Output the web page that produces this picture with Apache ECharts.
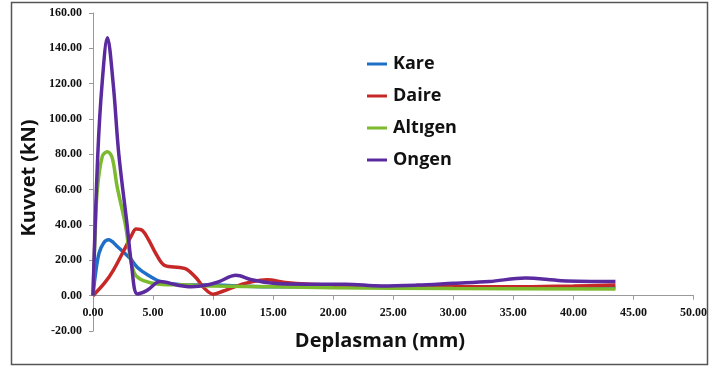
<!DOCTYPE html>
<html>
<head>
<meta charset="utf-8">
<script src="https://cdn.jsdelivr.net/npm/echarts@6/dist/echarts.min.js"></script>
<style>html,body{margin:0;padding:0;background:#fff}#c{width:710px;height:371px}</style>
</head>
<body>
<div id="c"></div>
<script>
const seriesNames = ['Kare', 'Daire', 'Altıgen', 'Ongen'];
const kare = [[0,0],[0.2,12],[0.5,24],[0.9,30],[1.3,31.6],[2.0,28],[3.1,21],[3.7,16],[4.5,12],[5.6,8],[6.5,6.8],[8,6],[10,6],[12,5.5],[15,5],[20,5],[30,4.8],[43.5,4.5]];
const daire = [[0,0],[1,7.5],[1.7,14.5],[2.6,26],[3.2,34],[3.6,37.7],[4.1,37],[4.6,32],[5.3,23],[6.0,17],[7.2,16],[7.8,15],[8.6,10],[9.3,4],[10,0.8],[10.8,2.5],[12,5.5],[13.3,8],[14.5,9],[16,7.5],[18,6.5],[22,5.5],[28,5],[35,5],[40,5.5],[43.5,6]];
const altigen = [[0,0],[0.15,30],[0.36,60],[0.78,79],[1.2,81.5],[1.6,78],[2.0,62],[2.7,40],[3.1,22],[3.5,12],[4.2,8.5],[5.5,6.5],[8,6],[10,5.5],[15,5],[20,4.5],[30,4],[43.5,3.8]];
const ongen = [[0,0],[0.4,80],[0.78,122],[1.2,146],[1.68,120],[2.15,80],[2.84,40],[3.2,18],[3.7,1],[4.5,3],[5.6,8],[7.0,6],[8.2,5],[9.5,6],[10.5,8],[11.9,11.5],[13.2,9],[15,7],[18,6.5],[21,6.5],[24,5.5],[27,6],[30,7],[33,8],[36,10],[39,8.5],[43.5,8]];
const seriesData = [kare, daire, altigen, ongen];
const colors = ['#1f6fc8', '#c62828', '#7cba2e', '#5a2a9e'];
const xTicks = {min: 0, max: 50, interval: 5};
const yTicks = {min: -20, max: 160, interval: 20};

const gridTop = 13, gridBottom = 40, H = 371;
const plotH = H - gridTop - gridBottom;
const zeroOffset = -plotH * (0 - yTicks.min) / (yTicks.max - yTicks.min);

const chart = echarts.init(document.getElementById('c'), null, {renderer: 'canvas'});
const tickFont = {fontFamily: 'Liberation Serif', fontWeight: 'bold', fontSize: 12, color: '#111'};
chart.setOption({
  animation: false,
  backgroundColor: '#fff',
  grid: {left: 93, right: 13, top: gridTop, bottom: gridBottom, containLabel: false},
  xAxis: {
    type: 'value', min: xTicks.min, max: xTicks.max, interval: xTicks.interval,
    offset: zeroOffset,
    axisLine: {onZero: false, lineStyle: {color: '#999', width: 1}},
    axisTick: {show: true, length: 4, lineStyle: {color: '#999'}},
    splitLine: {show: false},
    axisLabel: Object.assign({margin: 11, formatter: v => v.toFixed(2)}, tickFont)
  },
  yAxis: {
    type: 'value', min: yTicks.min, max: yTicks.max, interval: yTicks.interval,
    axisLine: {show: true, lineStyle: {color: '#999', width: 1}},
    axisTick: {show: true, length: 4, lineStyle: {color: '#999'}},
    splitLine: {show: false},
    axisLabel: Object.assign({margin: 11, formatter: v => v.toFixed(2)}, tickFont)
  },
  legend: {
    orient: 'vertical', left: 362, top: 50, itemGap: 14,
    itemWidth: 20, itemHeight: 3, icon: 'rect',
    textStyle: {fontFamily: 'Open Sans', fontWeight: 'bold', fontSize: 18, color: '#111', padding: [0,0,0,1]},
    data: seriesNames
  },
  graphic: [
    {type: 'rect', shape: {x: 11.5, y: 2.5, width: 696, height: 362}, style: {fill: 'none', stroke: '#555', lineWidth: 1.5}, z: -1},
    {type: 'text', x: 29, y: 178, rotation: Math.PI / 2, style: {text: 'Kuvvet (kN)', fontFamily: 'Open Sans', fontWeight: 'bold', fontSize: 20, fill: '#111', align: 'center', verticalAlign: 'middle'}},
    {type: 'text', x: 380, y: 341, style: {text: 'Deplasman (mm)', fontFamily: 'Open Sans', fontWeight: 'bold', fontSize: 20, fill: '#111', align: 'center', verticalAlign: 'middle'}}
  ],
  series: seriesNames.map((n, i) => ({
    name: n, type: 'line', data: seriesData[i], smooth: 0.35, showSymbol: false,
    lineStyle: {color: colors[i], width: 3.5}, itemStyle: {color: colors[i]}, z: 2 + i
  }))
});
</script>
</body>
</html>
